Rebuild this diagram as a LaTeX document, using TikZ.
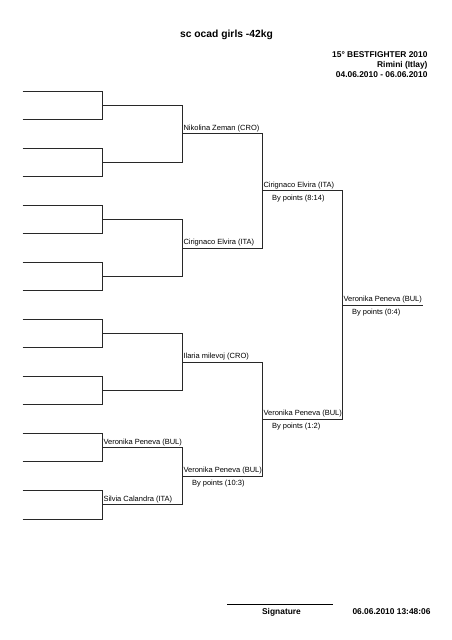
\documentclass[tikz,border=0pt]{standalone}
\usepackage{fontspec}
\setmainfont{Liberation Sans}
\usepackage{tikz}
\definecolor{cline}{RGB}{40,40,40}

\tikzset{
  bline/.style={draw=cline,line width=0.8pt},
  namelabel/.style={anchor=base west,font=\fontsize{7.5}{8}\selectfont},
  pointslabel/.style={anchor=base west,font=\fontsize{7.5}{8}\selectfont},
  headlabel/.style={anchor=base east,font=\fontsize{8.4}{10}\selectfont\bfseries}
}

\begin{document}
\begin{tikzpicture}[x=1pt,y=1pt,yscale=-1,inner sep=0pt,outer sep=0pt]
  \useasboundingbox[fill=white] (0,0) rectangle (452,640);

  % bracket slots, one row of lines per round
  \foreach \lev/\num in {1/16,2/8,3/4,4/2,5/1} {
    \pgfmathtruncatemacro\last{\num-1}
    \pgfmathsetmacro\xx{22.5+80*(\lev-1)}
    \pgfmathsetmacro\step{2^(\lev-1)}
    \foreach \k in {0,...,\last} {
      \pgfmathsetmacro\yy{91+28.53*(\step*\k+(\step-1)/2)}
      \path[bline] (\xx,\yy) coordinate (s\lev-\k) -- ++(80,0) coordinate (e\lev-\k);
    }
  }
  % joining verticals
  \foreach \lev/\num in {1/8,2/4,3/2,4/1} {
    \pgfmathtruncatemacro\last{\num-1}
    \foreach \k in {0,...,\last} {
      \pgfmathtruncatemacro\ka{2*\k}
      \pgfmathtruncatemacro\kb{2*\k+1}
      \path[bline] (e\lev-\ka) -- (e\lev-\kb);
    }
  }

  % names
  \node[namelabel] (text2-6) at ([shift={(1,-3.5)}]s2-6) {Veronika Peneva (BUL)};
  \node[namelabel] (text2-7) at ([shift={(1,-3.5)}]s2-7) {Silvia Calandra (ITA)};
  \node[namelabel] (text3-0) at ([shift={(1,-3.5)}]s3-0) {Nikolina Zeman (CRO)};
  \node[namelabel] (text3-1) at ([shift={(1,-3.5)}]s3-1) {Cirignaco Elvira (ITA)};
  \node[namelabel] (text3-2) at ([shift={(1,-3.5)}]s3-2) {Ilaria milevoj (CRO)};
  \node[namelabel] (text3-3) at ([shift={(1,-3.5)}]s3-3) {Veronika Peneva (BUL)};
  \node[namelabel] (text4-0) at ([shift={(1,-3.5)}]s4-0) {Cirignaco Elvira (ITA)};
  \node[namelabel] (text4-1) at ([shift={(1,-3.5)}]s4-1) {Veronika Peneva (BUL)};
  \node[namelabel] (text5-0) at ([shift={(1,-3.5)}]s5-0) {Veronika Peneva (BUL)};

  % results
  \node[pointslabel] (pts3-3) at ([shift={(9.5,9.8)}]s3-3) {By points (10:3)};
  \node[pointslabel] (pts4-0) at ([shift={(9.5,9.8)}]s4-0) {By points (8:14)};
  \node[pointslabel] (pts4-1) at ([shift={(9.5,9.8)}]s4-1) {By points (1:2)};
  \node[pointslabel] (pts5-0) at ([shift={(9.5,9.8)}]s5-0) {By points (0:4)};

  % header
  \node[anchor=base,font=\fontsize{10.3}{12}\selectfont\bfseries] (title) at (226.5,37) {sc ocad girls -42kg};
  \node[headlabel] (event) at (427.5,57.5) {15° BESTFIGHTER 2010};
  \node[headlabel] (place) at (427.5,67.5) {Rimini (Itlay)};
  \node[headlabel] (dates) at (427.5,77.5) {04.06.2010 - 06.06.2010};

  % footer
  \coordinate (sigL) at (227,604.3);
  \coordinate (sigR) at (333,604.3);
  \path[draw=black,line width=0.8pt] (sigL) -- (sigR);
  \node[anchor=base,font=\fontsize{8.4}{10}\selectfont\bfseries] (sign) at (281.5,614) {Signature};
  \node[headlabel] (stamp) at (430.5,614) {06.06.2010 13:48:06};
\end{tikzpicture}
\end{document}
